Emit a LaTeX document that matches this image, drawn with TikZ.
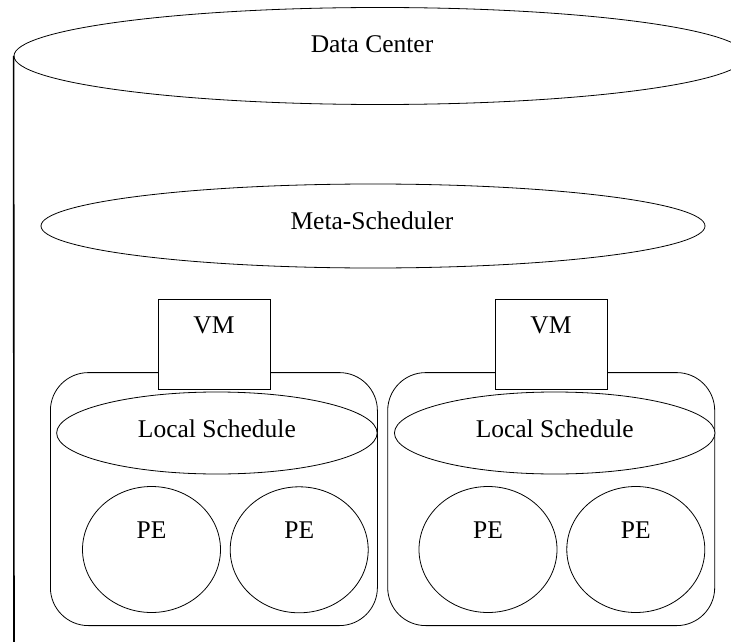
\documentclass[tikz,border=0pt]{standalone}
\usepackage{fontspec}
\setmainfont{Liberation Serif}
\usetikzlibrary{shapes.geometric}
\begin{document}
\begin{tikzpicture}[x=1pt,y=-1pt,
  shp/.style={draw=black, line width=0.8pt, inner sep=0pt, fill=white},
  ell/.style={shp, ellipse},
  rbox/.style={shp, rectangle, rounded corners=38pt, minimum width=327pt, minimum height=253pt},
  vmbox/.style={shp, rectangle, minimum width=112pt, minimum height=90pt},
  lsell/.style={ell, minimum width=320.5pt, minimum height=82pt},
  peell/.style={ell, minimum width=138pt, minimum height=126pt},
  lbl/.style={anchor=base, inner sep=0pt, font=\fontsize{25.5}{30}\selectfont},
]
\useasboundingbox (0,0) rectangle (731,642);
\fill[white] (0,0) rectangle (731,642);
% data center (cylinder)
\node[ell, minimum width=732pt, minimum height=97pt] (dc) at (380,56) {};
\coordinate (dcb) at (14,650);
\draw[line width=1.6pt] (dc.west) -- (dcb);
\node[lbl] (dct) at (372,53) {Data Center};
% meta-scheduler
\node[ell, minimum width=664pt, minimum height=84pt] (meta) at (373,226) {};
\node[lbl] (metat) at (372,229) {Meta-Scheduler};
% left host
\node[rbox] (boxL) at (213.9,499.1) {};
\node[vmbox] (vmL) at (213.9,344.2) {};
\node[lbl] (vmLt) at (213.9,333.3) {VM};
\node[lsell] (lsL) at (216.9,433) {};
\node[lbl] (lsLt) at (216.9,437) {Local Schedule};
\node[peell] (peL1) at (151.5,549.5) {};
\node[lbl] (peL1t) at (151.5,538.3) {PE};
\node[peell] (peL2) at (299.2,549.8) {};
\node[lbl] (peL2t) at (299.2,538.3) {PE};
% right host
\node[rbox] (boxR) at (551.2,499.1) {};
\node[vmbox] (vmR) at (550.9,344.3) {};
\node[lbl] (vmRt) at (550.9,333.3) {VM};
\node[lsell] (lsR) at (554.7,433) {};
\node[lbl] (lsRt) at (554.7,437) {Local Schedule};
\node[peell] (peR1) at (488,549.5) {};
\node[lbl] (peR1t) at (488,538.3) {PE};
\node[peell] (peR2) at (635.8,549.5) {};
\node[lbl] (peR2t) at (635.8,538.3) {PE};
\end{tikzpicture}
\end{document}
